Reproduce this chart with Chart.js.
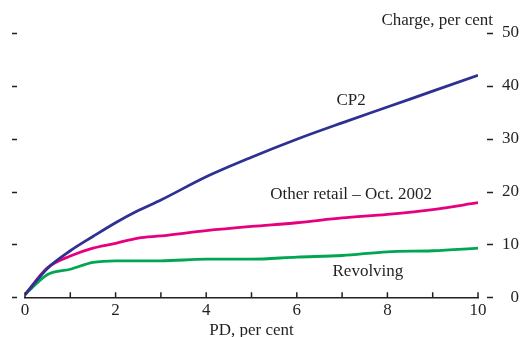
<!DOCTYPE html>
<html>
<head>
<meta charset="utf-8">
<style>
  html, body { margin: 0; padding: 0; background: #fff; }
  #wrap { width: 522px; height: 337px; }
</style>
<script src="https://cdn.jsdelivr.net/npm/chart.js@4.4.1/dist/chart.umd.min.js"></script>
</head>
<body>
<div id="wrap"><canvas id="chart" width="522" height="337"></canvas></div>
<script>
// PD values (per cent) and capital charge for each curve
const pd = [0, 0.5, 1, 1.5, 2, 2.5, 3, 4, 5, 6, 7, 8, 9, 10];
const cp2 = [0.5, 5.5, 8.8, 11.5, 14.1, 16.4, 18.4, 22.8, 26.5, 29.9, 33.0, 36.0, 39.0, 42.0];
const otherRetail = [0.5, 5.6, 7.8, 9.3, 10.2, 11.2, 11.6, 12.6, 13.4, 14.1, 15.0, 15.7, 16.6, 17.9];
const revolving = [0.5, 4.3, 5.3, 6.6, 6.9, 6.9, 6.9, 7.2, 7.2, 7.6, 7.9, 8.6, 8.8, 9.3];

const xTickLabels = [0, 2, 4, 6, 8, 10];
const yTickLabels = [0, 10, 20, 30, 40, 50];

const FONT = '"Liberation Serif", "DejaVu Serif", serif';
const INK = '#231f20';

const toPoints = vals => vals.map((v, i) => ({ x: pd[i], y: v }));

// tick dashes, inward x ticks and the text labels on the plot
const decorations = {
  id: 'decorations',
  afterDraw(chart) {
    const { ctx, chartArea, scales } = chart;
    const x = scales.x, y = scales.y;
    ctx.save();
    ctx.strokeStyle = INK;
    ctx.lineWidth = 1.5;

    // small x ticks pointing up from the axis
    x.ticks.forEach(t => {
      const px = x.getPixelForValue(t.value);
      ctx.beginPath();
      ctx.moveTo(px, chartArea.bottom);
      ctx.lineTo(px, chartArea.bottom - 5);
      ctx.stroke();
    });

    // dashes on both sides for y values
    yTickLabels.forEach(v => {
      const py = Math.round(y.getPixelForValue(v)) + 0.5;
      ctx.beginPath();
      ctx.moveTo(chartArea.left - 13, py);
      ctx.lineTo(chartArea.left - 8, py);
      ctx.moveTo(chartArea.right + 9, py);
      ctx.lineTo(chartArea.right + 15, py);
      ctx.stroke();
    });

    ctx.fillStyle = INK;
    ctx.font = '17px ' + FONT;
    ctx.textBaseline = 'middle';
    ctx.textAlign = 'right';
    ctx.fillText('Charge, per cent', chartArea.right + 15, 21);

    ctx.textAlign = 'center';
    ctx.fillText('CP2', x.getPixelForValue(7.2), y.getPixelForValue(37.3));
    ctx.fillText('Other retail \u2013 Oct. 2002', x.getPixelForValue(7.2), y.getPixelForValue(19.5));
    ctx.fillText('Revolving', x.getPixelForValue(7.57), y.getPixelForValue(4.8));
    ctx.restore();
  }
};

const ctx = document.getElementById('chart').getContext('2d');
const chart = new Chart(ctx, {
  type: 'line',
  data: {
    datasets: [
      { label: 'CP2', data: toPoints(cp2), borderColor: '#2e3192' },
      { label: 'Other retail - Oct. 2002', data: toPoints(otherRetail), borderColor: '#e6007e' },
      { label: 'Revolving', data: toPoints(revolving), borderColor: '#00a651' }
    ]
  },
  options: {
    responsive: false,
    animation: false,
    devicePixelRatio: 1,
    layout: { padding: { left: 25, right: 3, top: 33, bottom: 0 } },
    elements: {
      point: { radius: 0 },
      line: { borderWidth: 2.8, cubicInterpolationMode: 'monotone', fill: false }
    },
    plugins: {
      legend: { display: false },
      tooltip: { enabled: false }
    },
    scales: {
      x: {
        type: 'linear',
        min: 0,
        max: 10,
        grid: { display: false, drawTicks: false },
        border: { display: true, color: INK, width: 1.5 },
        ticks: {
          stepSize: 1,
          padding: 5,
          maxRotation: 0,
          autoSkip: false,
          color: INK,
          font: { family: FONT, size: 17, lineHeight: 1 },
          callback: v => xTickLabels.includes(v) ? String(v) : ''
        },
        title: {
          display: true,
          text: 'PD, per cent',
          color: INK,
          padding: { top: 0, bottom: 0 },
          font: { family: FONT, size: 17, lineHeight: 0.75 }
        }
      },
      y: {
        position: 'right',
        min: 0,
        max: 50,
        grid: { display: false, drawTicks: false },
        border: { display: false },
        afterFit: s => { s.width = 41; },
        ticks: {
          stepSize: 10,
          padding: 0,
          crossAlign: 'far',
          color: INK,
          font: { family: FONT, size: 17 },
          callback: v => yTickLabels.includes(v) ? String(v) : ''
        }
      }
    }
  },
  plugins: [decorations]
});
</script>
</body>
</html>
